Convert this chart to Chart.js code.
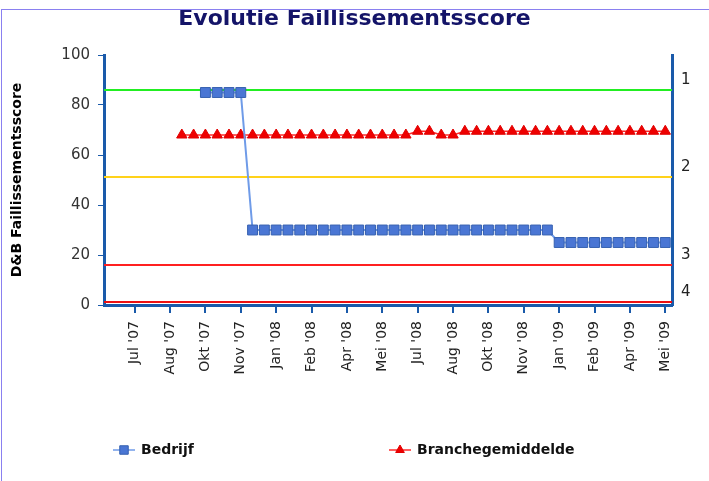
<!DOCTYPE html>
<html>
<head>
<meta charset="utf-8">
<title>Evolutie Faillissementsscore</title>
<script src="https://cdn.jsdelivr.net/npm/chart.js@4.4.1/dist/chart.umd.min.js"></script>
<style>
  html, body { margin: 0; padding: 0; background: #fff; }
  #wrap { position: relative; width: 709px; height: 481px; overflow: hidden; }
  #frame { position: absolute; left: 1px; top: 9px; right: -5px; bottom: -5px;
           border-left: 1px solid #8a80f0; border-top: 1px solid #8a80f0; pointer-events: none; }
</style>
</head>
<body>
<div id="wrap">
  <canvas id="scoreChart" width="709" height="481"></canvas>
  <div id="frame"></div>
</div>
<script>
// x = half-month periods counted from 1 Jul 2007
const tickPos = [0, 3, 6, 9, 12, 15, 18, 21, 24, 27, 30, 33, 36, 39, 42, 45];
const tickLabels = ["Jul '07", "Aug '07", "Okt '07", "Nov '07", "Jan '08", "Feb '08", "Apr '08", "Mei '08",
                    "Jul '08", "Aug '08", "Okt '08", "Nov '08", "Jan '09", "Feb '09", "Apr '09", "Mei '09"];

const bedrijfX = [6, 7, 8, 9, 10, 11, 12, 13, 14, 15, 16, 17, 18, 19, 20, 21, 22, 23, 24, 25,
                  26, 27, 28, 29, 30, 31, 32, 33, 34, 35, 36, 37, 38, 39, 40, 41, 42, 43, 44, 45];
const bedrijfScore = [85, 85, 85, 85, 30, 30, 30, 30, 30, 30, 30, 30, 30, 30, 30, 30, 30, 30, 30, 30,
                      30, 30, 30, 30, 30, 30, 30, 30, 30, 30, 25, 25, 25, 25, 25, 25, 25, 25, 25, 25];

const brancheX = [4, 5, 6, 7, 8, 9, 10, 11, 12, 13, 14, 15, 16, 17, 18, 19, 20, 21, 22, 23, 24,
                  25, 26, 27, 28, 29, 30, 31, 32, 33, 34, 35, 36, 37, 38, 39, 40, 41, 42, 43, 44, 45];
const brancheScore = [68, 68, 68, 68, 68, 68, 68, 68, 68, 68, 68, 68, 68, 68, 68, 68, 68, 68, 68, 68, 69.5,
                      69.5, 68, 68, 69.5, 69.5, 69.5, 69.5, 69.5, 69.5, 69.5, 69.5, 69.5, 69.5, 69.5, 69.5, 69.5, 69.5, 69.5, 69.5, 69.5, 69.5];

// risk classes on the right axis and the score where each class starts
const riskClasses = ['1', '2', '3', '4'];
const riskBounds = [86, 51, 16, 1];
const riskColors = ['#22ee22', '#ffd21a', '#ff2020', '#ee1010'];

const axisBlue = '#1a5aaa';
const legendLeft = [113, 389];

const thresholdLines = {
    id: 'thresholdLines',
    beforeDatasetsDraw(chart) {
        const {ctx, chartArea, scales} = chart;
        ctx.save();
        ctx.lineWidth = 2;
        riskBounds.forEach((v, i) => {
            const y = Math.floor(scales.y.getPixelForValue(v));
            ctx.strokeStyle = riskColors[i];
            ctx.beginPath();
            ctx.moveTo(chartArea.left, y);
            ctx.lineTo(chartArea.right, y);
            ctx.stroke();
        });
        ctx.restore();
    }
};

const bottomLegend = {
    id: 'bottomLegend',
    afterDraw(chart) {
        const ctx = chart.ctx;
        const y = 450;
        chart.data.datasets.forEach((ds, i) => {
            const x0 = legendLeft[i];
            ctx.save();
            ctx.strokeStyle = ds.borderColor;
            ctx.lineWidth = 1.5;
            ctx.beginPath();
            ctx.moveTo(x0, y);
            ctx.lineTo(x0 + 22, y);
            ctx.stroke();
            ctx.fillStyle = ds.pointBackgroundColor;
            ctx.strokeStyle = ds.pointBorderColor;
            ctx.lineWidth = 1;
            Chart.helpers.drawPoint(ctx, {pointStyle: ds.pointStyle, radius: ds.pointRadius - 1, borderWidth: 1, rotation: 0}, x0 + 11, y);
            ctx.fillStyle = '#111';
            ctx.font = 'bold 14px "DejaVu Sans"';
            ctx.textBaseline = 'middle';
            ctx.textAlign = 'left';
            ctx.fillText(ds.label, x0 + 28, y);
            ctx.restore();
        });
    }
};

new Chart(document.getElementById('scoreChart'), {
    type: 'line',
    data: {
        datasets: [{
            label: 'Bedrijf',
            data: bedrijfX.map((x, i) => ({x: x, y: bedrijfScore[i]})),
            borderColor: '#6f9be8',
            borderWidth: 2,
            pointStyle: 'rect',
            pointRadius: 7,
            pointBackgroundColor: '#4a76d4',
            pointBorderColor: '#3560b0',
            pointBorderWidth: 1,
            tension: 0
        }, {
            label: 'Branchegemiddelde',
            data: brancheX.map((x, i) => ({x: x, y: brancheScore[i]})),
            borderColor: '#ff2a2a',
            borderWidth: 1.5,
            pointStyle: 'triangle',
            pointRadius: 6,
            pointBackgroundColor: '#ee0000',
            pointBorderColor: '#e00000',
            pointBorderWidth: 1,
            tension: 0
        }]
    },
    options: {
        responsive: false,
        animation: false,
        devicePixelRatio: 1,
        layout: {padding: 0},
        scales: {
            x: {
                type: 'linear',
                min: -2.6,
                max: 45.57,
                afterBuildTicks: s => { s.ticks = tickPos.map(v => ({value: v})); },
                afterFit: s => { s.height = 176; },
                ticks: {
                    autoSkip: false,
                    minRotation: 90,
                    maxRotation: 90,
                    padding: 8,
                    color: '#222',
                    font: {family: 'DejaVu Sans', size: 14},
                    callback: (v, i) => tickLabels[i]
                },
                grid: {drawOnChartArea: false, tickLength: 8, color: axisBlue, lineWidth: 2},
                border: {color: axisBlue, width: 3}
            },
            y: {
                min: 0,
                max: 100,
                afterFit: s => { s.width = 104; },
                ticks: {stepSize: 20, padding: 8, color: '#333', font: {family: 'DejaVu Sans', size: 15}},
                grid: {drawOnChartArea: false, tickLength: 6, color: axisBlue, lineWidth: 1},
                border: {color: axisBlue, width: 3},
                title: {
                    display: true,
                    text: 'D&B Faillissementsscore',
                    color: '#000',
                    font: {family: 'DejaVu Sans', size: 14, weight: 'bold'},
                    padding: {top: 8.6, bottom: 0}
                }
            },
            y2: {
                position: 'right',
                min: 0,
                max: 100,
                afterBuildTicks: s => { s.ticks = riskBounds.map(v => ({value: v + 4})); },
                afterFit: s => { s.width = 37; },
                ticks: {
                    padding: 9,
                    color: '#222',
                    font: {family: 'DejaVu Sans', size: 15},
                    callback: (v, i) => riskClasses[i]
                },
                grid: {drawOnChartArea: false, drawTicks: false},
                border: {color: axisBlue, width: 3}
            }
        },
        plugins: {
            legend: {display: false},
            tooltip: {enabled: false},
            title: {
                display: true,
                text: 'Evolutie Faillissementsscore',
                color: '#141468',
                font: {family: 'DejaVu Sans', size: 22, weight: 'bold'},
                padding: {top: 6.5, bottom: 22.1}
            }
        }
    },
    plugins: [thresholdLines, bottomLegend]
});
</script>
</body>
</html>
